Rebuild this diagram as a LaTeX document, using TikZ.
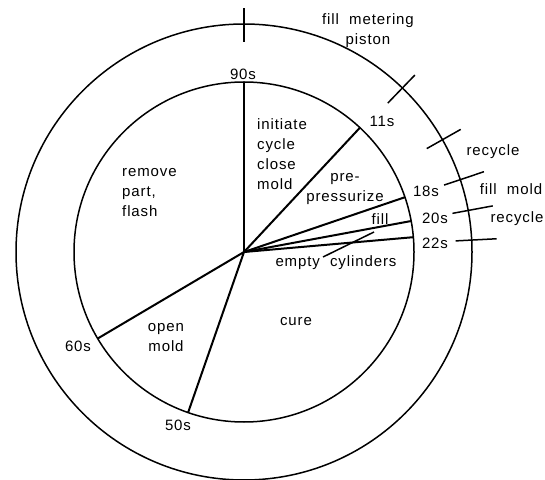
\documentclass[tikz,border=0pt]{standalone}
\usepackage{fontspec}
\setmainfont{Liberation Sans}[LetterSpace=6]
\begin{document}
\begin{tikzpicture}[x=1pt,y=1pt,
  ring/.style={line width=1.5pt},
  spoke/.style={line width=2pt},
  tick/.style={line width=1.5pt},
  lbl/.style={font=\fontsize{15}{20}\selectfont, inner sep=0pt},
  block/.style={lbl, align=left},
  cblock/.style={lbl, align=center}]
\useasboundingbox (0,0) rectangle (545,479);
\coordinate (c) at (244,227);

% dial: inner cycle ring and outer piston ring
\begin{scope}[shift={(c)}]
  \draw[ring] (0,0) circle (170);
  \draw[ring] (0,0) circle (228);

  % phase boundaries on the inner ring
  \coordinate (p90) at (90:170);
  \coordinate (p11) at (47:170);
  \coordinate (p18) at (18.8:170);
  \coordinate (p20) at (10.5:170);
  \coordinate (p22) at (5:170);
  \coordinate (p50) at (250.8:170);
  \coordinate (p60) at (210.6:170);

  % phase boundaries on the outer ring
  \draw[tick] (90:210) -- (90:244);
  \draw[tick] (46:207) -- (46:246);
  \draw[tick] (29.5:210) -- (29.5:249);
  \draw[tick] (18.5:211) -- (18.5:253);
  \draw[tick] (10.5:212) -- (10.5:253);
  \draw[tick] (3:212) -- (3:253);
\end{scope}

\foreach \p in {p90,p11,p18,p20,p22,p50,p60}
  \draw[spoke] (c) -- (\p);

% times
\node[lbl] (t90) at (243,405) {90s};
\node[lbl] (t11) at (382,358) {11s};
\node[lbl] (t18) at (426,288) {18s};
\node[lbl] (t20) at (435,261) {20s};
\node[lbl] (t22) at (435,236) {22s};
\node[lbl] (t50) at (178,54) {50s};
\node[lbl] (t60) at (78,133) {60s};

% phases of the molding cycle
\node[block, anchor=west] (init) at (257,325) {initiate\\cycle\\close\\mold};
\node[block, anchor=west] (remove) at (122,286) {remove\\part,\\flash};
\node[cblock] (prep) at (345,290) {pre-\\pressurize};
\node[lbl] (fill) at (380,260) {fill};
\node[lbl] (empty) at (336,216) {empty\ \ cylinders};
\node[lbl] (cure) at (296,157) {cure};
\node[cblock] (open) at (166,141) {open\\mold};

% leader for the empty-cylinders sector
\coordinate (e1) at (323,222);
\coordinate (e2) at (374,247);
\draw[tick] (e1) -- (e2);

% piston phases
\node[cblock] (meter) at (368,448) {fill\ \ metering\\piston};
\node[lbl] (rc1) at (493,327) {recycle};
\node[lbl] (fm) at (511,290) {fill\ \ mold};
\node[lbl] (rc2) at (517,260) {recycle};
\end{tikzpicture}
\end{document}
